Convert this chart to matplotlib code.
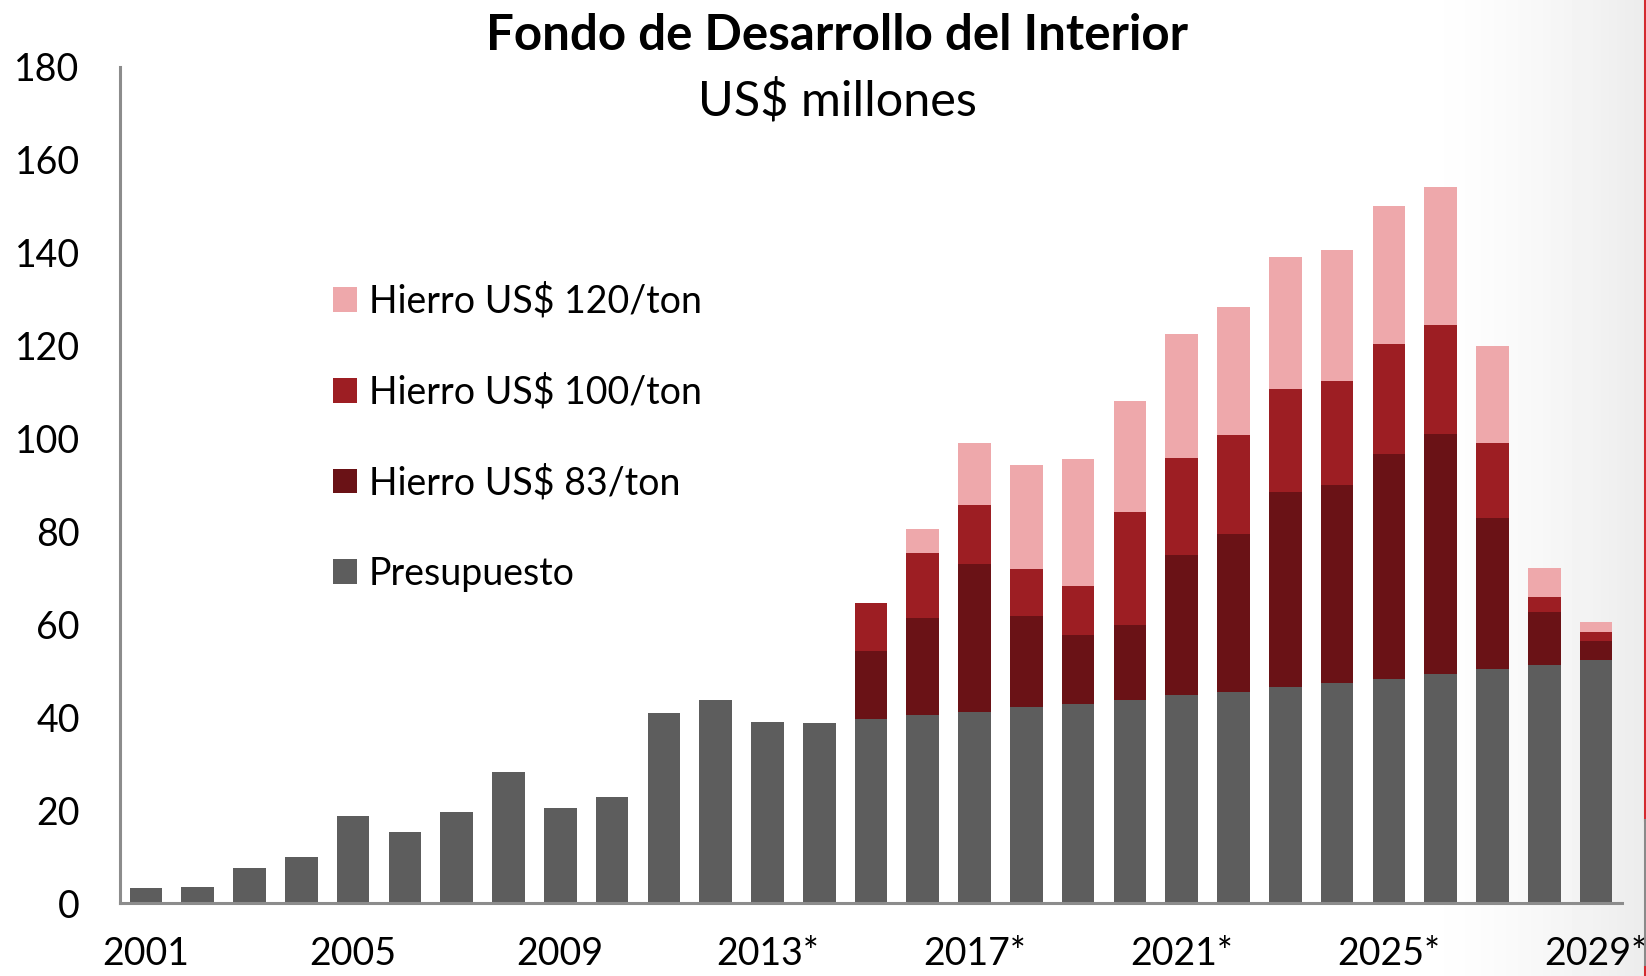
import numpy as np
import matplotlib
matplotlib.use("Agg")
import matplotlib.pyplot as plt
from matplotlib.patches import Patch
from matplotlib.lines import Line2D

plt.rcParams['font.family'] = ['Lato', 'DejaVu Sans']

years = [str(y) for y in range(2001, 2013)] + [f"{y}*" for y in range(2013, 2030)]
tick_every = 4

presupuesto = [3.2, 3.4, 7.6, 9.8, 18.8, 15.3, 19.5, 28.3, 20.4, 22.9, 40.9, 43.7,
               38.9, 38.7, 39.7, 40.4, 41.2, 42.1, 42.8, 43.7, 44.7, 45.5, 46.5,
               47.4, 48.3, 49.4, 50.4, 51.3, 52.4]
nan = float('nan')
total_83 = [nan] * 14 + [54.2, 61.3, 73.0, 61.7, 57.8, 59.8, 75.0, 79.4, 88.6,
                         90.0, 96.7, 100.9, 82.9, 62.6, 56.4]
total_100 = [nan] * 14 + [64.7, 75.3, 85.8, 72.0, 68.3, 84.2, 95.8, 100.7, 110.6,
                          112.4, 120.3, 124.4, 99.1, 65.9, 58.3]
total_120 = [nan] * 14 + [64.7, 80.6, 99.1, 94.2, 95.5, 108.1, 122.5, 128.3, 139.0,
                          140.6, 150.1, 154.2, 119.9, 72.2, 60.5]

labels = ["Presupuesto", "Hierro US$ 83/ton", "Hierro US$ 100/ton", "Hierro US$ 120/ton"]
colors = ["#5d5d5d", "#6a1216", "#9d1e23", "#eea8ab"]

W, H = 1646, 976
fig = plt.figure(figsize=(W / 100, H / 100), dpi=100)

# background gradient at right side
bg = fig.add_axes([0, 0, 1, 1], zorder=-10)
xs = np.linspace(0, 1, 400)
g = np.clip((xs - 0.86) / 0.14, 0, 1) ** 1.5
row = 1 - 0.075 * g
img = np.tile(row, (50, 1))
bg.imshow(img, cmap='gray', vmin=0, vmax=1, aspect='auto', extent=[0, 1, 0, 1])
bg.set_xlim(0, 1); bg.set_ylim(0, 1)
bg.axis('off')

ax = fig.add_axes([120 / W, 1 - 903 / H, (1622 - 120) / W, (903 - 67) / H])
ax.set_facecolor('none')

x = np.arange(len(years))
p = np.array(presupuesto)
t83 = np.where(np.isnan(total_83), p, total_83)
t100 = np.where(np.isnan(total_100), t83, total_100)
t120 = np.where(np.isnan(total_120), t100, total_120)
bottoms = [np.zeros_like(p), p, t83, t100]
heights = [p, t83 - p, t100 - t83, t120 - t100]
bw = 0.63
for b, h, c, lab in zip(bottoms, heights, colors, labels):
    ax.bar(x, h, bottom=b, width=bw, color=c, label=lab, edgecolor='none')

ax.set_xlim(-0.5, len(years) - 0.5)
ax.set_ylim(0, 180)
ax.set_yticks(range(0, 181, 20))
ax.set_xticks(x[::tick_every])
ax.set_xticklabels(years[::tick_every])
ax.tick_params(axis='both', length=0, labelsize=27)
ax.tick_params(axis='x', pad=24)
ax.tick_params(axis='y', pad=29)
for s in ['top', 'right']:
    ax.spines[s].set_visible(False)
for s in ['left', 'bottom']:
    ax.spines[s].set_color('#8c8c8c')
    ax.spines[s].set_linewidth(2.2)

handles = [Patch(facecolor=c, edgecolor='none') for c in colors][::-1]
leg = ax.legend(handles, labels[::-1], loc='upper left',
                bbox_to_anchor=(333 / W, 1 - 283 / H), bbox_transform=fig.transFigure,
                frameon=False, fontsize=27, handlelength=0.64, handleheight=0.64,
                handletextpad=0.32, labelspacing=1.45, borderpad=0, borderaxespad=0)

fig.text(837 / W, 1 - 36 / H, "Fondo de Desarrollo del Interior", ha='center', va='center',
         fontsize=35.5, fontweight='bold')
fig.text(837 / W, 1 - 101 / H, "US$ millones", ha='center', va='center', fontsize=35)

# right edge decoration
xe = 1644.5 / W
fig.add_artist(Line2D([xe, xe], [1, 1 - 820 / H], transform=fig.transFigure, color='#d32a2f', lw=2.2))
fig.add_artist(Line2D([xe, xe], [1 - 820 / H, 1 - 967 / H], transform=fig.transFigure, color='#8a8a8a', lw=2.2))
fig.add_artist(Line2D([xe, xe], [1 - 967 / H, 0], transform=fig.transFigure, color='#d32a2f', lw=2.2))

fig.savefig("out.png", dpi=100)
